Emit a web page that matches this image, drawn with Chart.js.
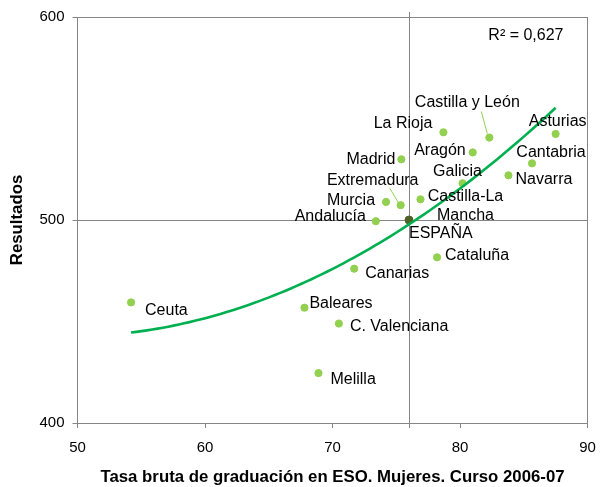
<!DOCTYPE html>
<html>
<head>
<meta charset="utf-8">
<script src="https://cdn.jsdelivr.net/npm/chart.js@4.4.1/dist/chart.umd.min.js"></script>
<style>
  html, body { margin: 0; padding: 0; background: #fff; }
</style>
</head>
<body>
<canvas id="grafica" width="600" height="487"></canvas>
<script>
// datos
var regiones = ['Ceuta', 'Baleares', 'C. Valenciana', 'Melilla', 'Canarias', 'Andalucía',
  'Murcia', 'Extremadura', 'Madrid', 'Castilla-La Mancha', 'La Rioja', 'Cataluña',
  'Galicia', 'Aragón', 'Castilla y León', 'Navarra', 'Cantabria', 'Asturias'];
var tasaGrad = [54.2, 67.8, 70.5, 68.9, 71.7, 73.4, 74.2, 75.35, 75.4, 76.9, 78.7, 78.2,
  80.2, 81.0, 82.3, 83.8, 85.65, 87.5];
var resultados = [459.4, 456.8, 449.0, 424.6, 476.0, 499.4, 508.9, 507.3, 529.9, 510.2,
  543.2, 481.6, 518.1, 533.3, 540.6, 522.0, 527.9, 542.4];
var espanaX = [76];
var espanaY = [500];
var ticksX = [50, 60, 70, 80, 90];
var ticksY = [400, 500, 600];
var textoR2 = 'R² = 0,627';

// donde va cada etiqueta respecto a su punto: [dx, dy, alineacion]
var posEtiqueta = {
  'Ceuta': [14, 8, 'left'],
  'Baleares': [5, -4, 'left'],
  'C. Valenciana': [11, 3, 'left'],
  'Melilla': [12, 7, 'left'],
  'Canarias': [11, 5, 'left'],
  'Andalucía': [-10, -5, 'right'],
  'Murcia': [-11, -1, 'right'],
  'Extremadura': [-28, -25, 'center'],
  'Madrid': [-6, 0, 'right'],
  'Castilla-La Mancha': [45, -3, 'center'],
  'La Rioja': [-11, -9, 'right'],
  'Cataluña': [8, -2, 'left'],
  'Galicia': [-5, -12, 'center'],
  'Aragón': [-7, -2, 'right'],
  'Castilla y León': [-22, -35, 'center'],
  'Navarra': [7, 4, 'left'],
  'Cantabria': [19, -11, 'center'],
  'Asturias': [2, -12, 'center']
};
// lineas guia de algunas etiquetas
var guias = {
  'Extremadura': [-11, -17, -2, -2],
  'Castilla y León': [-8, -26, -2, -4]
};

// ajuste polinomico de grado 2 (como la linea de tendencia de Excel)
function ajusteCuadratico(xs, ys) {
  var s = [0, 0, 0, 0, 0], t = [0, 0, 0];
  for (var i = 0; i < xs.length; i++) {
    var p = 1;
    for (var k = 0; k <= 4; k++) {
      s[k] += p;
      if (k <= 2) t[k] += p * ys[i];
      p *= xs[i];
    }
  }
  var m = [[s[0], s[1], s[2], t[0]], [s[1], s[2], s[3], t[1]], [s[2], s[3], s[4], t[2]]];
  for (var c = 0; c < 3; c++) {
    for (var r = c + 1; r < 3; r++) {
      var f = m[r][c] / m[c][c];
      for (var q = c; q < 4; q++) m[r][q] -= f * m[c][q];
    }
  }
  var sol = [0, 0, 0];
  for (var r2 = 2; r2 >= 0; r2--) {
    var v = m[r2][3];
    for (var q2 = r2 + 1; q2 < 3; q2++) v -= m[r2][q2] * sol[q2];
    sol[r2] = v / m[r2][r2];
  }
  return sol;
}

var coef = ajusteCuadratico(tasaGrad, resultados);
var xMin = Math.min.apply(null, tasaGrad);
var xMax = Math.max.apply(null, tasaGrad);
var tendencia = [];
for (var n = 0; n <= 80; n++) {
  var xv = xMin + (xMax - xMin) * n / 80;
  tendencia.push({x: xv, y: coef[0] + coef[1] * xv + coef[2] * xv * xv});
}

var puntos = [];
for (var i = 0; i < regiones.length; i++) {
  puntos.push({x: tasaGrad[i], y: resultados[i]});
}

var gris = '#868686';
var fuente = '"Liberation Sans", Arial, sans-serif';

var marcoYEtiquetas = {
  id: 'marcoYEtiquetas',
  beforeDatasetsDraw: function(chart) {
    var ctx = chart.ctx, a = chart.chartArea;
    var sx = chart.scales.x, sy = chart.scales.y;
    ctx.save();
    ctx.strokeStyle = gris;
    ctx.lineWidth = 1;
    var xe = Math.round(sx.getPixelForValue(espanaX[0])) + 0.5;
    var ye = Math.round(sy.getPixelForValue(espanaY[0])) + 0.5;
    ctx.beginPath();
    ctx.moveTo(xe, a.top - 5);
    ctx.lineTo(xe, a.bottom + 5);
    ctx.moveTo(a.left, ye);
    ctx.lineTo(a.right, ye);
    // marco superior y derecho
    ctx.moveTo(a.left, Math.round(a.top) + 0.5);
    ctx.lineTo(a.right, Math.round(a.top) + 0.5);
    ctx.moveTo(Math.round(a.right) - 0.5, a.top);
    ctx.lineTo(Math.round(a.right) - 0.5, a.bottom + 5);
    ctx.stroke();
    ctx.restore();
  },
  afterDatasetsDraw: function(chart) {
    var ctx = chart.ctx, a = chart.chartArea;
    var sx = chart.scales.x, sy = chart.scales.y;
    ctx.save();
    ctx.font = '16px ' + fuente;
    ctx.fillStyle = '#000';
    ctx.textBaseline = 'middle';
    for (var i = 0; i < regiones.length; i++) {
      var px = sx.getPixelForValue(tasaGrad[i]);
      var py = sy.getPixelForValue(resultados[i]);
      var pe = posEtiqueta[regiones[i]];
      ctx.textAlign = pe[2];
      if (regiones[i] === 'Castilla-La Mancha') {
        ctx.fillText('Castilla-La', px + pe[0], py + pe[1]);
        ctx.fillText('Mancha', px + pe[0], py + pe[1] + 19);
      } else {
        ctx.fillText(regiones[i], px + pe[0], py + pe[1]);
      }
      var g = guias[regiones[i]];
      if (g) {
        ctx.strokeStyle = '#92D050';
        ctx.lineWidth = 1;
        ctx.beginPath();
        ctx.moveTo(px + g[0], py + g[1]);
        ctx.lineTo(px + g[2], py + g[3]);
        ctx.stroke();
      }
    }
    var ex = sx.getPixelForValue(espanaX[0]);
    var ey = sy.getPixelForValue(espanaY[0]);
    ctx.textAlign = 'left';
    ctx.fillText('ESPAÑA', ex, ey + 14);
    ctx.textAlign = 'right';
    ctx.fillText(textoR2, a.right - 24, a.top + 19);
    ctx.restore();
  }
};

var ctx = document.getElementById('grafica').getContext('2d');

var grafica = new Chart(ctx, {
  type: 'scatter',
  data: {
    datasets: [{
      type: 'line',
      label: 'Tendencia',
      data: tendencia,
      borderColor: '#00B050',
      borderWidth: 2.6,
      pointRadius: 0,
      fill: false,
      order: 0
    }, {
      label: 'España',
      data: [{x: espanaX[0], y: espanaY[0]}],
      backgroundColor: '#4F6228',
      borderColor: '#4F6228',
      pointRadius: 4,
      order: 1
    }, {
      label: 'Comunidades',
      data: puntos,
      backgroundColor: '#92D050',
      borderColor: '#92D050',
      pointRadius: 3.6,
      order: 2
    }]
  },
  options: {
    responsive: false,
    animation: false,
    layout: { padding: { top: 17, right: 12.5, left: 0, bottom: 0 } },
    plugins: {
      legend: { display: false },
      tooltip: { enabled: false }
    },
    scales: {
      x: {
        type: 'linear',
        min: 50,
        max: 90,
        afterBuildTicks: function(s) { s.ticks = ticksX.map(function(v) { return {value: v}; }); },
        ticks: { color: '#000', padding: 11, font: { size: 15, family: fuente } },
        grid: { drawOnChartArea: false, tickLength: 5, color: gris },
        border: { color: gris },
        title: {
          display: true,
          text: 'Tasa bruta de graduación en ESO. Mujeres. Curso 2006-07',
          color: '#000',
          font: { size: 16.8, weight: 'bold', family: fuente },
          padding: { top: 0, bottom: 0 }
        },
        afterFit: function(s) {
          s.height = 64;
          s.paddingRight = 12.5;
          s.paddingLeft = 0;
        }
      },
      y: {
        min: 400,
        max: 600,
        afterBuildTicks: function(s) { s.ticks = ticksY.map(function(v) { return {value: v}; }); },
        ticks: { color: '#000', padding: 8, font: { size: 15, family: fuente } },
        grid: { drawOnChartArea: false, tickLength: 5, color: gris },
        border: { color: gris },
        title: {
          display: true,
          text: 'Resultados',
          color: '#000',
          font: { size: 16.8, weight: 'bold', family: fuente },
          padding: { top: 7, bottom: 0 }
        },
        afterFit: function(s) { s.width = 77.5; }
      }
    }
  },
  plugins: [marcoYEtiquetas]
});
</script>
</body>
</html>
